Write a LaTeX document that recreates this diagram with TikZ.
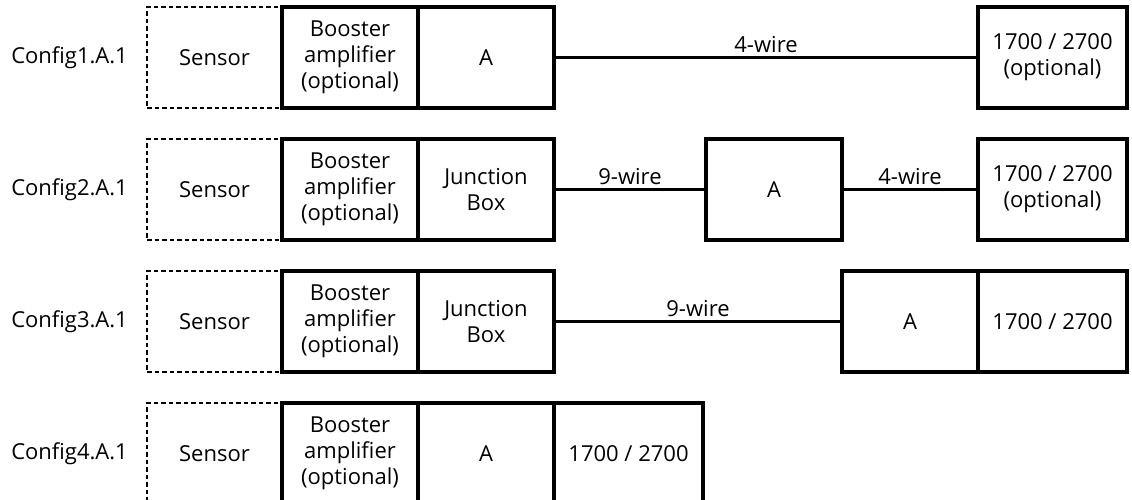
\documentclass[tikz,border=0pt]{standalone}
\usepackage{fontspec}
\setmainfont{Open Sans}
\usetikzlibrary{positioning}

\tikzset{
  unitbox/.style={draw, line width=3.8pt, minimum width=136pt, minimum height=101pt,
    outer sep=0pt, inner sep=2pt, align=center},
  widebox/.style={unitbox, minimum width=149pt},
  sensorbox/.style={draw, dash pattern=on 4.5pt off 3pt, line width=1.6pt,
    minimum width=135pt, minimum height=101pt, outer sep=0pt},
  wire/.style={line width=3.8pt},
  cfglabel/.style={anchor=east, inner sep=0pt},
}

\begin{document}
\begin{tikzpicture}[x=1pt, y=-1pt, font=\fontsize{22}{26}\selectfont]
  \useasboundingbox (0,0) rectangle (1132,499);

  % config 1
  \node[sensorbox] (s1) at (214.5,57.5) {Sensor};
  \node[cfglabel] (c1) at ([xshift=-19pt]s1.west) {Config1.A.1};
  \node[unitbox, right=0pt of s1] (b1) {Booster\\amplifier\\(optional)};
  \node[unitbox, right=0pt of b1] (a1) {A};
  \node[widebox] (m1) at (1052.5,57.5) {1700 / 2700\\(optional)};
  \draw[wire] (a1) -- node[above] {4-wire} (m1);

  % config 2
  \node[sensorbox] (s2) at (214.5,189.5) {Sensor};
  \node[cfglabel] (c2) at ([xshift=-19pt]s2.west) {Config2.A.1};
  \node[unitbox, right=0pt of s2] (b2) {Booster\\amplifier\\(optional)};
  \node[unitbox, right=0pt of b2] (j2) {Junction\\Box};
  \node[unitbox] (a2) at (774,189.5) {A};
  \node[widebox] (m2) at (1052.5,189.5) {1700 / 2700\\(optional)};
  \draw[wire] (j2) -- node[above] {9-wire} (a2);
  \draw[wire] (a2) -- node[above] {4-wire} (m2);

  % config 3
  \node[sensorbox] (s3) at (214.5,321.5) {Sensor};
  \node[cfglabel] (c3) at ([xshift=-19pt]s3.west) {Config3.A.1};
  \node[unitbox, right=0pt of s3] (b3) {Booster\\amplifier\\(optional)};
  \node[unitbox, right=0pt of b3] (j3) {Junction\\Box};
  \node[unitbox] (a3) at (910,321.5) {A};
  \node[widebox, right=0pt of a3] (m3) {1700 / 2700};
  \draw[wire] (j3) -- node[above] {9-wire} (a3);

  % config 4
  \node[sensorbox] (s4) at (214.5,453.5) {Sensor};
  \node[cfglabel] (c4) at ([xshift=-19pt]s4.west) {Config4.A.1};
  \node[unitbox, right=0pt of s4] (b4) {Booster\\amplifier\\(optional)};
  \node[unitbox, right=0pt of b4] (a4) {A};
  \node[widebox, right=0pt of a4] (m4) {1700 / 2700};
\end{tikzpicture}
\end{document}
